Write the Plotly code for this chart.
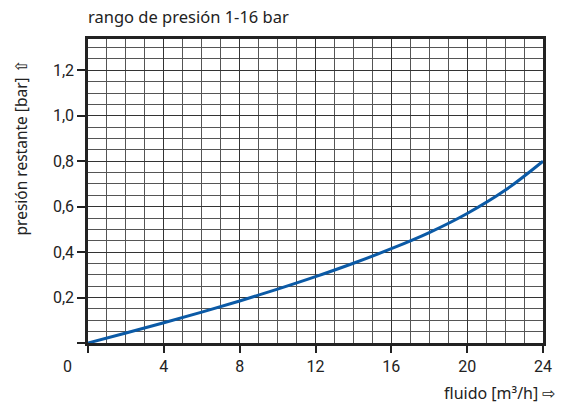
import plotly.graph_objects as go

flow = [0, 2, 4, 6, 8, 10, 12, 14, 16, 18, 20, 22, 24]
pressure = [0.0, 0.044, 0.089, 0.136, 0.185, 0.237, 0.292, 0.351, 0.415, 0.486, 0.570, 0.672, 0.80]

x_ticks = [0, 4, 8, 12, 16, 20, 24]
x_ticklabels = ["", "4", "8", "12", "16", "20", "24"]
y_ticks = [0, 0.2, 0.4, 0.6, 0.8, 1.0, 1.2]
y_ticklabels = ["", "0,2", "0,4", "0,6", "0,8", "1,0", "1,2"]

title_text = "rango de presión 1-16 bar"
x_title = "fluido [m³/h] ⇨"
y_title = "presión restante [bar] ⇧"

tick_font = dict(family="Liberation Sans Narrow, Roboto, sans-serif", size=16, color="#222")
title_font = dict(family="Noto Sans, Open Sans, sans-serif", size=16.5, color="#222")
ytitle_font = dict(family="Noto Sans, Open Sans, sans-serif", size=15.5, color="#222")
xtitle_font = dict(family="Noto Sans, Open Sans, sans-serif", size=16, color="#222")

fig = go.Figure()
fig.add_trace(go.Scatter(x=flow, y=pressure, mode="lines",
                         line=dict(color="#0b5aa6", width=3, shape="spline", smoothing=1.0),
                         hoverinfo="skip"))

fig.update_layout(
    width=571, height=405,
    margin=dict(l=88, r=28, t=39, b=62),
    paper_bgcolor="white", plot_bgcolor="white",
    showlegend=False,
    annotations=[
        dict(text=title_text, xref="paper", yref="paper", x=0, xshift=-2, y=1, yshift=23,
             xanchor="left", yanchor="middle", showarrow=False, font=title_font),
        dict(text=y_title, xref="paper", yref="paper", x=0, xshift=-67, y=0.64,
             xanchor="center", yanchor="middle", textangle=-90, showarrow=False, font=ytitle_font),
        dict(text=x_title, xref="paper", yref="paper", x=1, xshift=14, y=0, yshift=-50,
             xanchor="right", yanchor="middle", showarrow=False, font=xtitle_font),
        dict(text="0", xref="x", yref="paper", x=0, xshift=-21, y=0, yshift=-23,
             xanchor="center", yanchor="middle", showarrow=False, font=tick_font),
    ],
)

fig.update_xaxes(
    range=[0, 24], tickvals=x_ticks, ticktext=x_ticklabels,
    ticks="outside", ticklen=7, tickwidth=1.5, tickcolor="#222",
    tickfont=tick_font,
    showline=True, linewidth=2.5, linecolor="#222", mirror=True,
    showgrid=True, gridcolor="#333", gridwidth=1.3,
    minor=dict(dtick=1, showgrid=True, gridcolor="#555", gridwidth=1.3, ticks=""),
    zeroline=False, fixedrange=True,
)
fig.update_yaxes(
    range=[0, 1.338], tickvals=y_ticks, ticktext=y_ticklabels,
    ticks="outside", ticklen=8, tickwidth=1.5, tickcolor="#222",
    tickfont=tick_font,
    showline=True, linewidth=2.5, linecolor="#222", mirror=True,
    showgrid=True, gridcolor="#333", gridwidth=1.3,
    minor=dict(tick0=0, dtick=0.05, showgrid=True, gridcolor="#555", gridwidth=1.3, ticks=""),
    zeroline=False, fixedrange=True,
)

fig.write_html("out.html", config={"displayModeBar": False},
               post_script="document.body.style.margin='0';")
